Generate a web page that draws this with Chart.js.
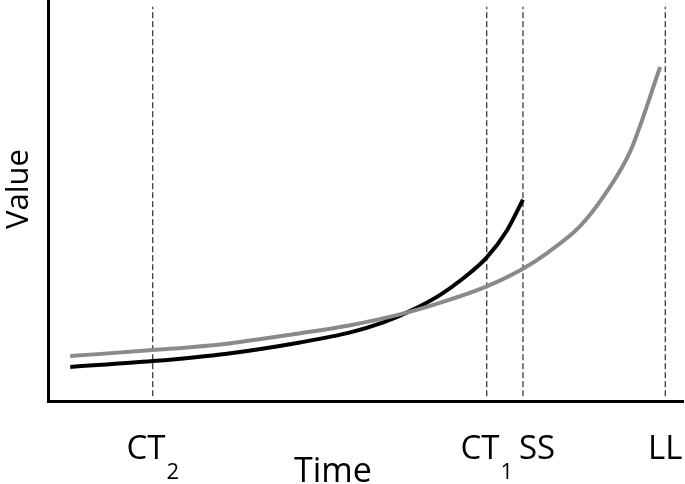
<!DOCTYPE html>
<html>
<head>
<meta charset="utf-8">
<title>Value over time</title>
<script src="https://cdn.jsdelivr.net/npm/chart.js@4.4.1/dist/chart.umd.min.js"></script>
<style>
  html, body { margin: 0; padding: 0; background: #fff; }
  #wrap { width: 685px; height: 484px; position: relative; }
</style>
</head>
<body>
<div id="wrap"><canvas id="chart"></canvas></div>
<script>
// Curves (time, value)
const grayTime  = [3.5, 16.5, 28.2, 39.7, 47.6, 55.4, 63.3, 69.1, 74.8, 78.6, 83.8, 87.7, 91.7, 96.4];
const grayValue = [11.2, 12.7, 14.3, 16.9, 18.9, 21.6, 25.3, 28.6, 33.0, 36.9, 43.6, 51.5, 62.3, 83.3];

const blackTime  = [3.5, 16.5, 28.2, 39.7, 47.6, 52.8, 57.0, 61.7, 65.4, 69.1, 72.3, 74.8];
const blackValue = [8.5, 9.95, 11.8, 14.6, 17.1, 19.6, 22.4, 26.4, 30.6, 35.8, 42.6, 50.2];

// Vertical markers on the time axis
const markerTimes  = [16.5, 69.1, 74.8, 97.2];
const markerLabels = [["CT", "2"], ["CT", "1"], ["SS", ""], ["LL", ""]];
const markerRange  = [1.2, 98.3]; // value span of the dashed lines

const FONT = "'Open Sans', sans-serif";

const markerSets = markerTimes.map(t => ({
  data: markerRange.map(v => ({ x: t, y: v })),
  borderColor: "#000",
  borderWidth: 1,
  borderDash: [6, 3],
  pointRadius: 0,
  tension: 0
}));

// Draws the axis titles and the marker labels (with subscripts)
const labelPlugin = {
  id: "labels",
  afterDraw(chart) {
    const ctx = chart.ctx;
    const xs = chart.scales.x;
    ctx.save();
    ctx.fillStyle = "#000";
    ctx.textBaseline = "alphabetic";
    markerLabels.forEach((parts, i) => {
      ctx.font = "33px " + FONT;
      const w1 = ctx.measureText(parts[0]).width;
      ctx.font = "22px " + FONT;
      const w2 = parts[1] ? ctx.measureText(parts[1]).width + 1 : 0;
      const shift = parts[0] === "SS" ? 14 : 0;
      const x0 = xs.getPixelForValue(markerTimes[i]) - (w1 + w2) / 2 + shift;
      ctx.textAlign = "left";
      ctx.font = "33px " + FONT;
      ctx.fillText(parts[0], x0, 459);
      if (parts[1]) {
        ctx.font = "22px " + FONT;
        ctx.fillText(parts[1], x0 + w1 + 1, 479);
      }
    });
    ctx.font = "34px " + FONT;
    ctx.textAlign = "center";
    ctx.fillText("Time", 333, 482);
    ctx.font = "31px " + FONT;
    ctx.translate(28, 189);
    ctx.rotate(-Math.PI / 2);
    ctx.fillText("Value", 0, 0);
    ctx.restore();
  }
};

new Chart(document.getElementById("chart"), {
  type: "line",
  data: {
    datasets: [
      {
        data: grayTime.map((t, i) => ({ x: t, y: grayValue[i] })),
        borderColor: "#8a8a8a",
        borderWidth: 4,
        pointRadius: 0,
        cubicInterpolationMode: "monotone"
      },
      {
        data: blackTime.map((t, i) => ({ x: t, y: blackValue[i] })),
        borderColor: "#000",
        borderWidth: 4,
        pointRadius: 0,
        cubicInterpolationMode: "monotone"
      },
      ...markerSets
    ]
  },
  options: {
    responsive: true,
    maintainAspectRatio: false,
    animation: false,
    layout: { padding: { left: 48, right: 2, top: 0, bottom: 83 } },
    plugins: {
      legend: { display: false },
      tooltip: { enabled: false }
    },
    scales: {
      x: {
        type: "linear",
        min: 0,
        max: 100,
        ticks: { display: false },
        grid: { display: false, drawTicks: false },
        border: { display: true, color: "#000", width: 3 }
      },
      y: {
        min: 0,
        max: 100,
        ticks: { display: false },
        grid: { display: false, drawTicks: false },
        border: { display: true, color: "#000", width: 3 }
      }
    }
  },
  plugins: [labelPlugin]
});
</script>
</body>
</html>
